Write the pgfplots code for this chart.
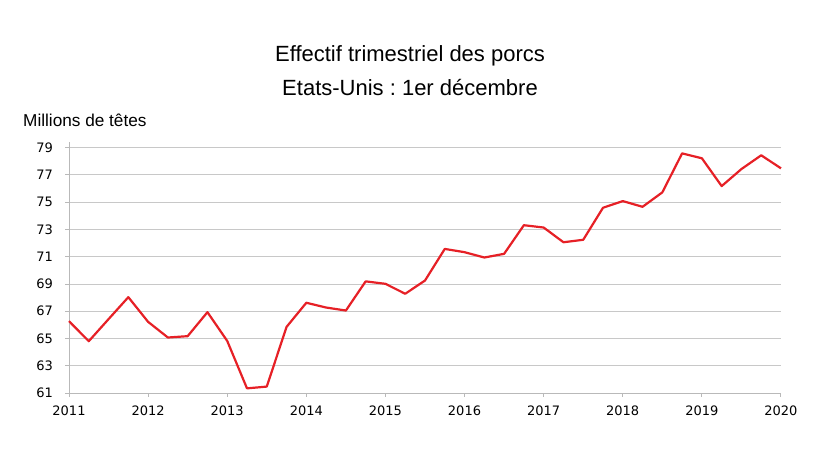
\documentclass[border=0pt]{standalone}
\usepackage{fontspec}
\setmainfont{Liberation Sans}
\newfontfamily\tickfont{DejaVu Sans}
\usepackage{pgfplots}
\pgfplotsset{compat=1.18}
\definecolor{porcred}{RGB}{230,32,38}
\definecolor{gridgray}{RGB}{200,200,200}
\definecolor{axisgray}{RGB}{185,185,185}
\frenchspacing

\begin{document}
\begin{tikzpicture}
  % page frame, 1 px = 1 bp
  \path (0,0) rectangle (820bp,462bp);

  \node[anchor=base, font=\fontsize{22bp}{26bp}\selectfont] at (410bp,400.3bp)
    {Effectif trimestriel des porcs};
  \node[anchor=base, font=\fontsize{22bp}{26bp}\selectfont] at (410bp,366.3bp)
    {Etats-Unis : 1er décembre};
  \node[anchor=base west, inner sep=0pt, font=\fontsize{17.2bp}{20bp}\selectfont]
    at (23bp,335.3bp) {Millions de têtes};

  \begin{axis}[
    at={(69bp,69bp)}, anchor=south west,
    scale only axis,
    width=712bp, height=250.8bp,
    xmin=2011, xmax=2020,
    ymin=61, ymax=79.4,
    axis x line*=bottom,
    axis y line*=left,
    axis line style={draw=axisgray, line width=0.9bp, -},
    xtick={2011,...,2020},
    minor x tick num=3,
    ytick={61,63,...,79},
    tick align=outside,
    major tick length=4bp,
    minor tick length=4bp,
    tick style={draw=axisgray, line width=0.9bp},
    ymajorgrids,
    grid style={draw=gridgray, line width=0.9bp},
    xticklabel={\pgfmathprintnumber[1000 sep={}, fixed]{\tick}},
    tick label style={font=\tickfont\fontsize{13bp}{15bp}\selectfont},
    /pgf/number format/assume math mode=true,
    xticklabel style={anchor=base, inner sep=0pt, yshift=-18bp},
    yticklabel style={anchor=east, inner sep=0pt, xshift=-12bp},
    clip=false,
  ]
    \addplot[color=porcred, line width=2.2bp, line join=round] coordinates {
      (2011.00,66.27) (2011.25,64.80) (2011.50,66.42) (2011.75,68.03)
      (2012.00,66.22) (2012.25,65.07) (2012.50,65.17) (2012.75,66.93)
      (2013.00,64.82) (2013.25,61.34) (2013.50,61.47) (2013.75,65.85)
      (2014.00,67.62) (2014.25,67.27) (2014.50,67.05) (2014.75,69.19)
      (2015.00,69.01) (2015.25,68.28) (2015.50,69.25) (2015.75,71.57)
      (2016.00,71.33) (2016.25,70.94) (2016.50,71.21) (2016.75,73.31)
      (2017.00,73.14) (2017.25,72.06) (2017.50,72.24) (2017.75,74.59)
      (2018.00,75.08) (2018.25,74.66) (2018.50,75.72) (2018.75,78.58)
      (2019.00,78.22) (2019.25,76.18) (2019.50,77.43) (2019.75,78.44)
      (2020.00,77.48)
    };
  \end{axis}
\end{tikzpicture}
\end{document}
